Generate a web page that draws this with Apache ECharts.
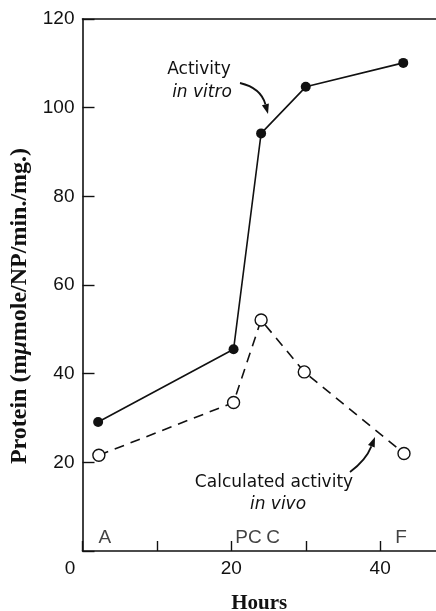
<!DOCTYPE html>
<html>
<head>
<meta charset="utf-8">
<script src="https://cdn.jsdelivr.net/npm/echarts@6/dist/echarts.min.js"></script>
<style>
  html, body { margin: 0; padding: 0; background: #fff; }
  #chart { width: 436px; height: 611px; }
</style>
</head>
<body>
<div id="chart"></div>
<script>
// Enzyme activity over the time course (hours)
const vitroHours  = [2.1, 20.3, 24.0, 30.0, 43.1];
const vitroValues = [29.1, 45.5, 94.2, 104.7, 110.1];

const vivoHours  = [2.2, 20.3, 24.0, 29.8, 43.2];
const vivoValues = [21.6, 33.5, 52.1, 40.4, 22.0];

// Stage markers along the time axis
const stageNames = ['A', 'PC', 'C', 'F'];
const stageHours = [3.0, 22.3, 25.6, 42.8];
const stageLevel = [3, 3, 3, 3];

const yTicks = [20, 40, 60, 80, 100, 120];
const xLabelTicks = [0, 20, 40];

const INK = '#111111';
const NUM_FONT = '"Liberation Sans", Arial, sans-serif';
const NOTE_FONT = '"DejaVu Sans", sans-serif';
const TITLE_FONT = '"Liberation Serif", serif';

const chart = echarts.init(document.getElementById('chart'), null, { renderer: 'canvas' });

function pairs(xs, ys) { return xs.map((x, i) => [x, ys[i]]); }

const option = {
  backgroundColor: '#ffffff',
  animation: false,
  grid: { left: 82.5, right: 0, top: 19, bottom: 60, containLabel: false, outerBoundsMode: 'none' },
  xAxis: [
    {
      type: 'value', min: 0, max: 47.5, interval: 10,
      splitLine: { show: false },
      axisLine: { show: true, lineStyle: { color: INK, width: 1.6 } },
      axisTick: { show: true, inside: true, length: 10, lineStyle: { color: INK, width: 1.4 } },
      axisLabel: {
        color: INK, fontFamily: NUM_FONT, fontSize: 19, margin: 8,
        showMaxLabel: false,
        formatter: v => v === 0 ? '{o|0}' : (xLabelTicks.indexOf(v) >= 0 ? String(v) : ''),
        rich: { o: { fontFamily: NUM_FONT, fontSize: 19, color: INK, padding: [0, 25, 0, 0] } }
      },
      name: 'Hours', nameLocation: 'middle', nameGap: 42,
      nameTextStyle: { fontFamily: TITLE_FONT, fontWeight: 'bold', fontSize: 21, color: INK }
    },
    {
      type: 'value', position: 'top', min: 0, max: 47.5, interval: 10,
      splitLine: { show: false },
      axisLine: { show: true, lineStyle: { color: INK, width: 1.6 } },
      axisTick: { show: false }, axisLabel: { show: false }
    }
  ],
  yAxis: {
    type: 'value', min: 0, max: 120, interval: 20,
    splitLine: { show: false },
    axisLine: { show: true, lineStyle: { color: INK, width: 1.6 } },
    axisTick: { show: true, inside: true, length: 12, lineStyle: { color: INK, width: 1.4 } },
    axisLabel: {
      color: INK, fontFamily: NUM_FONT, fontSize: 19, margin: 8,
      formatter: v => yTicks.indexOf(v) >= 0 ? String(v) : ''
    }
  },
  series: [
    {
      name: 'Activity in vitro', type: 'line', xAxisIndex: 0,
      data: pairs(vitroHours, vitroValues),
      symbol: 'circle', symbolSize: 10,
      itemStyle: { color: INK, borderColor: INK, borderWidth: 0 },
      lineStyle: { color: INK, width: 1.6 },
      z: 3
    },
    {
      name: 'Calculated activity in vivo', type: 'line', xAxisIndex: 0,
      data: pairs(vivoHours, vivoValues),
      symbol: 'circle', symbolSize: 12,
      itemStyle: { color: '#ffffff', borderColor: INK, borderWidth: 1.4 },
      lineStyle: { color: INK, width: 1.6, type: [10, 7] },
      z: 4
    },
    {
      name: 'stages', type: 'scatter', xAxisIndex: 0,
      data: stageHours.map((h, i) => ({ value: [h, stageLevel[i]], name: stageNames[i] })),
      symbolSize: 0, silent: true,
      label: {
        show: true, position: 'inside', formatter: p => p.name,
        color: INK, fontFamily: NUM_FONT, fontSize: 19
      }
    }
  ]
};

chart.setOption(option);

// Curved pointer with a filled head from (x0,y0) via control (cx,cy) to tip (x1,y1)
function pointer(x0, y0, cx, cy, x1, y1) {
  const dx = x1 - cx, dy = y1 - cy;
  const len = Math.hypot(dx, dy);
  const ux = dx / len, uy = dy / len;
  const hl = 10, hw = 3.6;
  const bx = x1 - ux * hl, by = y1 - uy * hl;
  return [
    {
      type: 'bezierCurve', silent: true,
      shape: { x1: x0, y1: y0, cpx1: cx, cpy1: cy, x2: bx, y2: by },
      style: { stroke: INK, lineWidth: 1.8, fill: null }
    },
    {
      type: 'polygon', silent: true,
      shape: { points: [[x1, y1], [bx - uy * hw, by + ux * hw], [bx + uy * hw, by - ux * hw]] },
      style: { fill: INK }
    }
  ];
}

const graphics = [
  {
    type: 'text', silent: true, x: 20, y: 306, rotation: Math.PI / 2,
    style: {
      text: 'Protein (m{i|\u03bc}mole/NP/min./mg.)',
      fontFamily: TITLE_FONT, fontWeight: 'bold', fontSize: 24, fill: INK,
      align: 'center', verticalAlign: 'middle',
      rich: { i: { fontFamily: TITLE_FONT, fontWeight: 'bold', fontStyle: 'italic', fontSize: 24, fill: INK } }
    }
  },
  { type: 'text', silent: true, x: 199, y: 70,
    style: { text: 'Activity', fontFamily: NOTE_FONT, fontSize: 17, fill: INK, align: 'center', verticalAlign: 'middle' } },
  { type: 'text', silent: true, x: 202, y: 93,
    style: { text: 'in vitro', fontFamily: NOTE_FONT, fontStyle: 'italic', fontSize: 17, fill: INK, align: 'center', verticalAlign: 'middle' } },
  { type: 'text', silent: true, x: 274, y: 483,
    style: { text: 'Calculated activity', fontFamily: NOTE_FONT, fontSize: 17, fill: INK, align: 'center', verticalAlign: 'middle' } },
  { type: 'text', silent: true, x: 278, y: 505,
    style: { text: 'in vivo', fontFamily: NOTE_FONT, fontStyle: 'italic', fontSize: 17, fill: INK, align: 'center', verticalAlign: 'middle' } }
]
  .concat(pointer(240, 83, 261, 88, 268, 114))
  .concat(pointer(350, 472, 366, 460, 375, 437));

chart.setOption({ graphic: graphics });
</script>
</body>
</html>
